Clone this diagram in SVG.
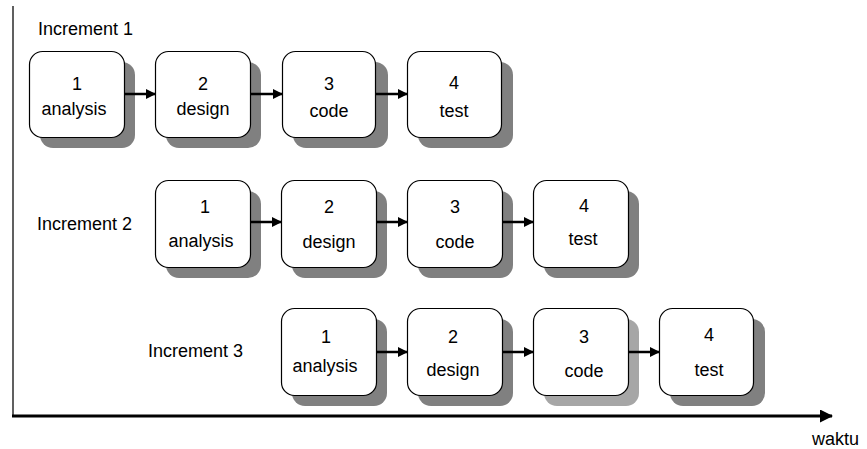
<svg xmlns="http://www.w3.org/2000/svg" width="867" height="449" viewBox="0 0 867 449">
<defs>
<style>
text{font-family:"Liberation Sans",Arial,sans-serif;font-size:18px;fill:#000;}
.c{text-anchor:middle;}
.box{fill:#fff;stroke:#000;stroke-width:1.2;}
.sh{fill:#808080;}
.shl{fill:#a6a6a6;}
.conn{stroke:#000;stroke-width:2.5;fill:none;marker-end:url(#ah);}
</style>
<marker id="ah" markerWidth="10" markerHeight="10" refX="9" refY="5" orient="auto" markerUnits="userSpaceOnUse">
<path d="M0,0 L10,5 L0,10 Z" fill="#000"/>
</marker>
<marker id="axh" markerWidth="13" markerHeight="13" refX="12" refY="6.5" orient="auto" markerUnits="userSpaceOnUse">
<path d="M0,0 L13,6.5 L0,13 Z" fill="#000"/>
</marker>
</defs>
<g id="axes">
<line x1="13" y1="6" x2="13" y2="416" stroke="#606060" stroke-width="2"/>
<line x1="12" y1="416" x2="832" y2="416" stroke="#000" stroke-width="3" marker-end="url(#axh)"/>
<text x="812" y="445">waktu</text>
</g>
<g id="labels">
<text x="38" y="35">Increment 1</text>
<text x="37" y="230">Increment 2</text>
<text x="148" y="357">Increment 3</text>
</g>
<g id="r1a"><rect class="sh" x="40" y="62" width="95" height="86" rx="13"/><rect class="box" x="29.5" y="51.5" width="95" height="86" rx="13"/><text class="c" x="77" y="90">1</text><text class="c" x="74" y="115">analysis</text></g>
<g id="r1d"><rect class="sh" x="166" y="62" width="95" height="86" rx="13"/><rect class="box" x="155.5" y="51.5" width="95" height="86" rx="13"/><text class="c" x="203" y="90">2</text><text class="c" x="203" y="115">design</text></g>
<g id="r1c"><rect class="sh" x="293" y="62" width="95" height="86" rx="13"/><rect class="box" x="282.5" y="51.5" width="93" height="86" rx="13"/><text class="c" x="329" y="90">3</text><text class="c" x="329" y="117">code</text></g>
<g id="r1t"><rect class="sh" x="418" y="62" width="95" height="86" rx="13"/><rect class="box" x="407.5" y="51.5" width="94" height="86" rx="13"/><text class="c" x="454" y="89">4</text><text class="c" x="454" y="117">test</text></g>

<g id="r2a"><rect class="sh" x="166" y="191" width="95" height="87" rx="13"/><rect class="box" x="155.5" y="180.5" width="95" height="87" rx="13"/><text class="c" x="205" y="213">1</text><text class="c" x="201" y="247">analysis</text></g>
<g id="r2d"><rect class="sh" x="292" y="191" width="95" height="87" rx="13"/><rect class="box" x="281.5" y="180.5" width="95" height="87" rx="13"/><text class="c" x="329" y="213">2</text><text class="c" x="329" y="248">design</text></g>
<g id="r2c"><rect class="sh" x="418" y="191" width="95" height="87" rx="13"/><rect class="box" x="407.5" y="180.5" width="95" height="87" rx="13"/><text class="c" x="455" y="213">3</text><text class="c" x="455" y="248">code</text></g>
<g id="r2t"><rect class="sh" x="544" y="191" width="95" height="87" rx="13"/><rect class="box" x="533.5" y="180.5" width="95" height="87" rx="13"/><text class="c" x="584" y="212">4</text><text class="c" x="583" y="245">test</text></g>

<g id="r3a"><rect class="sh" x="292" y="319" width="95" height="87" rx="13"/><rect class="box" x="281.5" y="308.5" width="95" height="87" rx="13"/><text class="c" x="326" y="343">1</text><text class="c" x="325" y="372">analysis</text></g>
<g id="r3d"><rect class="sh" x="418" y="319" width="95" height="87" rx="13"/><rect class="box" x="407.5" y="308.5" width="95" height="87" rx="13"/><text class="c" x="453" y="343">2</text><text class="c" x="453" y="376">design</text></g>
<g id="r3c"><rect class="shl" x="544" y="319" width="95" height="87" rx="13"/><rect class="box" x="533.5" y="308.5" width="95" height="87" rx="13"/><text class="c" x="584" y="343">3</text><text class="c" x="584" y="377">code</text></g>
<g id="r3t"><rect class="sh" x="670" y="319" width="95" height="87" rx="13"/><rect class="box" x="659.5" y="308.5" width="94" height="87" rx="13"/><text class="c" x="709" y="341">4</text><text class="c" x="709" y="376">test</text></g>

<g id="connectors">
<line class="conn" x1="124" y1="94" x2="155" y2="94"/>
<line class="conn" x1="250" y1="94" x2="282" y2="94"/>
<line class="conn" x1="375" y1="94" x2="407" y2="94"/>
<line class="conn" x1="250" y1="222" x2="281" y2="222"/>
<line class="conn" x1="376" y1="222" x2="407" y2="222"/>
<line class="conn" x1="502" y1="222" x2="533" y2="222"/>
<line class="conn" x1="376" y1="352" x2="407" y2="352"/>
<line class="conn" x1="502" y1="352" x2="533" y2="352"/>
<line class="conn" x1="628" y1="352" x2="659" y2="352"/>
</g>
</svg>
